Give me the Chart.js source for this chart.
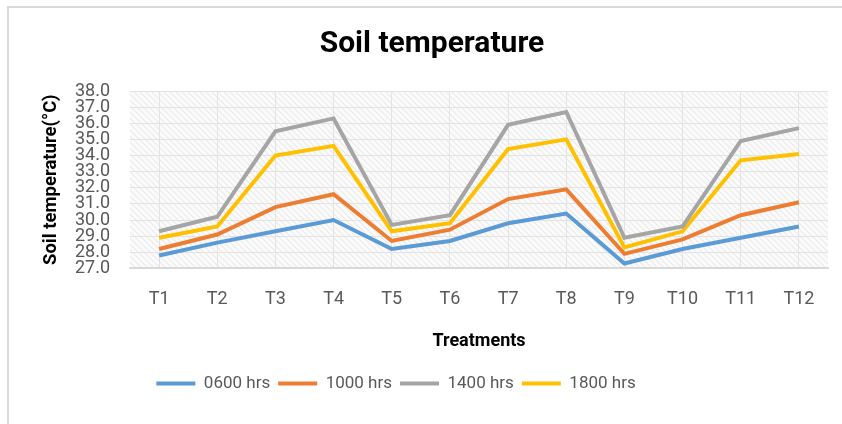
<!DOCTYPE html>
<html lang="en">
<head>
<meta charset="UTF-8">
<title>Soil temperature</title>
<style>
  html, body { margin: 0; padding: 0; background: #fff; overflow: hidden; }
  .frame {
    position: absolute; left: 7px; top: 6px; width: 900px; height: 500px;
    border-top: 2px solid #d9d9d9; border-left: 2px solid #d9d9d9;
  }
  .wrap { position: absolute; left: 0; top: 0; width: 842px; height: 424px; }
</style>
</head>
<body>
<div class="frame"></div>
<div class="wrap"><canvas id="soilChart" width="842" height="424"></canvas></div>
<script src="https://cdn.jsdelivr.net/npm/chart.js@4.4.1/dist/chart.umd.min.js"></script>
<script>
  // categories and readings (deg C)
  var treatments = ['T1', 'T2', 'T3', 'T4', 'T5', 'T6', 'T7', 'T8', 'T9', 'T10', 'T11', 'T12'];
  var hrs0600 = [27.8, 28.6, 29.3, 30.0, 28.2, 28.7, 29.8, 30.4, 27.3, 28.2, 28.9, 29.6];
  var hrs1000 = [28.2, 29.1, 30.8, 31.6, 28.7, 29.4, 31.3, 31.9, 27.9, 28.8, 30.3, 31.1];
  var hrs1400 = [29.3, 30.2, 35.5, 36.3, 29.7, 30.3, 35.9, 36.7, 28.9, 29.6, 34.9, 35.7];
  var hrs1800 = [28.9, 29.6, 34.0, 34.6, 29.3, 29.8, 34.4, 35.0, 28.3, 29.3, 33.7, 34.1];
  var yTicks = [27, 28, 29, 30, 31, 32, 33, 34, 35, 36, 37, 38];

  var narrow = '"Liberation Sans Narrow", "Roboto", sans-serif';

  // light diagonal hatch like the office chart fill
  function hatch() {
    var c = document.createElement('canvas');
    c.width = 6; c.height = 6;
    var g = c.getContext('2d');
    g.fillStyle = '#fbfbfb';
    g.fillRect(0, 0, 6, 6);
    g.strokeStyle = '#eaeaea';
    g.lineWidth = 1.2;
    g.beginPath();
    g.moveTo(0, 0); g.lineTo(6, 6);
    g.moveTo(-3, 3); g.lineTo(3, 9);
    g.moveTo(3, -3); g.lineTo(9, 3);
    g.stroke();
    return g.createPattern(c, 'repeat');
  }

  var plotFill = {
    id: 'plotFill',
    beforeDraw: function(chart) {
      var a = chart.chartArea, ctx = chart.ctx;
      ctx.save();
      ctx.fillStyle = hatch();
      ctx.fillRect(a.left, a.top, a.right - a.left, a.bottom - a.top);
      ctx.restore();
    }
  };

  // the legend in the original sits a bit left of centre
  var legendShift = {
    id: 'legendShift',
    afterLayout: function(chart) {
      if (chart.legend) {
        chart.legend.left -= 36;
        chart.legend.right -= 36;
      }
    }
  };

  function line(label, data, color) {
    return {
      label: label,
      data: data,
      borderColor: color,
      backgroundColor: color,
      borderWidth: 4,
      pointRadius: 0,
      tension: 0,
      fill: false
    };
  }

  new Chart(document.getElementById('soilChart'), {
    type: 'line',
    data: {
      labels: treatments,
      datasets: [
        line('0600 hrs', hrs0600, '#5b9bd5'),
        line('1000 hrs', hrs1000, '#ed7d31'),
        line('1400 hrs', hrs1400, '#a5a5a5'),
        line('1800 hrs', hrs1800, '#ffc000')
      ]
    },
    options: {
      responsive: false,
      animation: false,
      layout: { padding: { left: 36, right: 14, top: 16, bottom: 22 } },
      plugins: {
        title: {
          display: true,
          text: 'Soil temperature',
          color: '#000',
          font: { family: narrow, size: 30, weight: 'bold' },
          padding: { top: 10, bottom: 29 }
        },
        legend: {
          position: 'bottom',
          labels: {
            color: '#595959',
            font: { family: narrow, size: 17 },
            usePointStyle: true,
            pointStyle: 'line',
            pointStyleWidth: 39,
            boxHeight: 4,
            padding: 8
          }
        },
        tooltip: { enabled: false }
      },
      scales: {
        x: {
          offset: true,
          grid: { color: '#e3e3e3', drawTicks: false, offset: false },
          border: { color: '#d9d9d9', width: 2 },
          ticks: { color: '#595959', font: { family: narrow, size: 18, lineHeight: 1 }, padding: 22 },
          title: {
            display: true, text: 'Treatments', color: '#000',
            font: { family: narrow, size: 18, weight: 'bold' },
            padding: { top: 0, bottom: 15 }
          }
        },
        y: {
          min: 27, max: 38,
          afterBuildTicks: function(scale) {
            scale.ticks = yTicks.map(function(v) { return { value: v }; });
          },
          grid: { color: '#e3e3e3', drawTicks: false },
          border: { display: false },
          ticks: {
            autoSkip: false,
            color: '#595959',
            font: { family: narrow, size: 18, lineHeight: 1 },
            padding: 20,
            callback: function(v) { return Number(v).toFixed(1); }
          },
          title: {
            display: true, text: 'Soil temperature(\u00b0C)', color: '#000',
            font: { family: narrow, size: 18.5, weight: 'bold' },
            padding: { top: 4, bottom: 14 }
          },
          afterFit: function(scale) { scale.width = 94; }
        }
      }
    },
    plugins: [plotFill, legendShift]
  });
</script>
</body>
</html>
